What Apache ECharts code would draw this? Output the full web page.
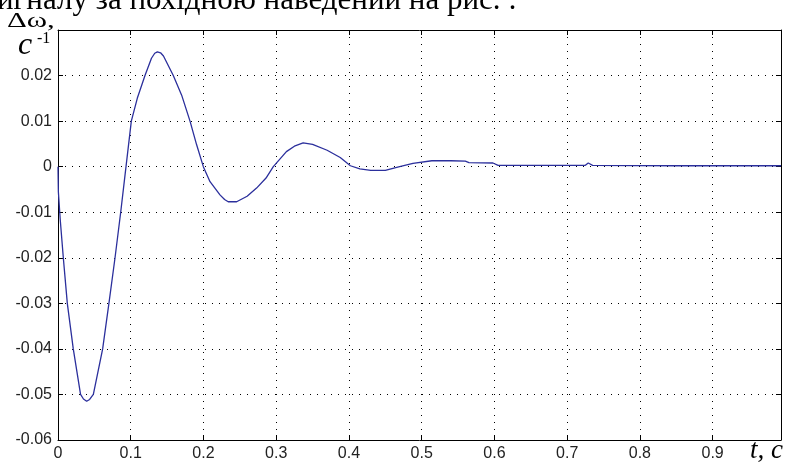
<!DOCTYPE html>
<html>
<head>
<meta charset="utf-8">
<script src="https://cdn.jsdelivr.net/npm/echarts@6/dist/echarts.min.js"></script>
<style>
  html, body { margin: 0; padding: 0; background: #fff; }
  #chart { width: 787px; height: 464px; }
</style>
</head>
<body>
<div id="chart"></div>
<script>
// Time samples, s
const timeS = [0, 0.0005, 0.003, 0.0073, 0.0128, 0.021, 0.031, 0.035, 0.0394, 0.0435, 0.0486, 0.0614,
  0.070, 0.0784, 0.0862, 0.0935, 0.1008, 0.109, 0.1196, 0.1285, 0.133, 0.1366, 0.141, 0.145,
  0.1585, 0.170, 0.1815, 0.1906, 0.1998, 0.209, 0.2227, 0.229, 0.234, 0.2456, 0.26,
  0.273, 0.286, 0.296, 0.314, 0.325, 0.337, 0.35, 0.37, 0.388, 0.402,
  0.415, 0.43, 0.45, 0.467, 0.488, 0.514, 0.54, 0.56, 0.565, 0.598,
  0.605, 0.70, 0.725, 0.729, 0.735, 0.85, 0.994];
// Speed deviation, 1/s
const deltaOmega = [0, -0.0055, -0.0115, -0.020, -0.030, -0.040, -0.050, -0.0510, -0.0515, -0.0511, -0.050, -0.040,
  -0.030, -0.020, -0.010, 0, 0.010, 0.015, 0.020, 0.0238, 0.0249, 0.0252, 0.0250, 0.0243,
  0.020, 0.0157, 0.010, 0.0048, 0, -0.0033, -0.0062, -0.0072, -0.0077, -0.0077, -0.0065,
  -0.0047, -0.0025, 0, 0.0033, 0.0045, 0.0052, 0.0049, 0.0036, 0.0020, 0.0002,
  -0.0005, -0.0008, -0.0008, -0.0001, 0.0007, 0.0013, 0.0013, 0.0012, 0.0009, 0.0008,
  0.0003, 0.0003, 0.0003, 0.0008, 0.0003, 0.0002, 0.0002];

const xMin = 0, xMax = 0.994, xStep = 0.1;
const yMin = -0.06, yMax = 0.03, yStep = 0.01;

const points = timeS.map((t, i) => [t, deltaOmega[i]]);

const serif = '"Liberation Serif", "Times New Roman", serif';
const labelFont = { fontFamily: 'Liberation Sans, Arial, sans-serif', fontSize: 16, color: '#222' };
const gridDots = { show: true, lineStyle: { color: '#000', width: 1, type: [1, 6] } };
const frameLine = { show: true, onZero: false, lineStyle: { color: '#000', width: 1 } };
const innerTick = { show: true, inside: true, length: 5, lineStyle: { color: '#000', width: 1 } };

function xLabel(v) {
  const k = Math.round(v / xStep);
  if (Math.abs(v - k * xStep) > 1e-6) return '';
  return k === 0 ? '0' : (k * xStep).toFixed(1);
}
function yLabel(v) {
  if (Math.abs(v - yMax) < 1e-9) return '';
  if (Math.abs(v) < 1e-9) return '0';
  return v.toFixed(2);
}

function caption(id, text, x, y, size, italic, scaleX) {
  const style = italic ? 'italic ' : '';
  return { type: 'text', id: id, x: x, y: y, z: 10, scaleX: scaleX || 1,
    style: { text: text, font: style + size + 'px ' + serif,
      fontSize: size, fontFamily: serif, fontStyle: italic ? 'italic' : 'normal',
      fill: '#000', verticalAlign: 'top', align: 'left' } };
}

const chart = echarts.init(document.getElementById('chart'), null, { renderer: 'canvas' });
chart.setOption({
  animation: false,
  backgroundColor: '#fff',
  grid: { left: 58, right: 6, top: 30, bottom: 24 },
  xAxis: [
    { type: 'value', min: xMin, max: xMax, interval: xStep, position: 'bottom',
      axisLine: frameLine, axisTick: innerTick, splitLine: gridDots,
      axisLabel: Object.assign({ margin: 6, formatter: xLabel }, labelFont) },
    { type: 'value', min: xMin, max: xMax, interval: xStep, position: 'top',
      axisLine: frameLine, axisTick: innerTick, splitLine: { show: false },
      axisLabel: { show: false } }
  ],
  yAxis: [
    { type: 'value', min: yMin, max: yMax, interval: yStep, position: 'left',
      axisLine: frameLine, axisTick: innerTick, splitLine: gridDots,
      axisLabel: Object.assign({ margin: 6, formatter: yLabel }, labelFont) },
    { type: 'value', min: yMin, max: yMax, interval: yStep, position: 'right',
      axisLine: frameLine, axisTick: innerTick, splitLine: { show: false },
      axisLabel: { show: false } }
  ],
  series: [{
    type: 'line',
    data: points,
    xAxisIndex: 0, yAxisIndex: 0,
    showSymbol: false,
    smooth: false,
    lineStyle: { color: '#2b2f9c', width: 1.3 }
  }],
  graphic: [
    caption('lead', 'игналу за похідною наведений на рис. :', -3, -15, 31, false),
    caption('dw', 'Δω,', 7, 10, 22, false, 1.4),
    caption('unitC', 'c', 18, 30, 32, true),
    caption('unitPow', '-1', 37, 31, 16, false),
    caption('tAxis', 't, c', 750, 437, 27, true)
  ]
});
</script>
</body>
</html>
